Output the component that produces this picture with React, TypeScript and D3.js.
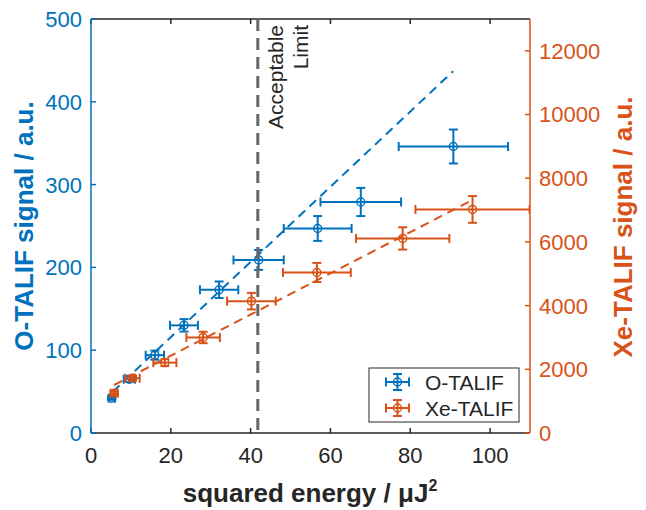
import React from 'react';
import * as d3 from 'd3';

const blueX = [5.2, 9.6, 16.0, 23.3, 32.1, 42.0, 56.8, 67.6, 90.8];
const blueXErr = [0.8, 1.4, 2.3, 3.5, 4.8, 6.3, 8.5, 10.1, 13.7];
const blueY = [42, 65, 94, 130, 173, 209, 247, 279, 346];
const blueYErr = [2, 3.5, 5.5, 7.5, 10, 12, 15, 17, 20.5];

const orangeX = [5.8, 10.4, 18.5, 28.1, 40.2, 56.6, 78.1, 95.6];
const orangeXErr = [0.9, 1.8, 2.9, 4.2, 6.1, 8.5, 11.7, 14.3];
const orangeY = [1250, 1720, 2210, 3000, 4140, 5040, 6110, 7020];
const orangeYErr = [60, 80, 110, 180, 260, 300, 350, 420];

const blueFitX = [5.5, 90.75];
const blueFitY = [50, 437];
const orangeFitX = [5.8, 94.75];
const orangeFitY = [1507, 7262];

const limitX = 41.8;

const xTicks = [0, 20, 40, 60, 80, 100];
const leftTicks = [0, 100, 200, 300, 400, 500];
const rightTicks = [0, 2000, 4000, 6000, 8000, 10000, 12000];

const BLUE = '#0072BD';
const ORANGE = '#D95319';
const DARK = '#262626';
const FONT = '"Liberation Sans", Arial, Helvetica, sans-serif';

const W = 646;
const H = 510;
const left = 91, right = 530, top = 19, bottom = 433;

const x = d3.scaleLinear().domain([0, 110]).range([left, right]);
const yL = d3.scaleLinear().domain([0, 500]).range([bottom, top]);
const yR = d3.scaleLinear().domain([0, 13000]).range([bottom, top]);

function ErrBar({ cx, cy, x0, x1, y0, y1, color }) {
  const cap = 4.5;
  return (
    <g stroke={color} strokeWidth={2} fill="none">
      <line x1={x0} x2={x1} y1={cy} y2={cy} />
      <line x1={x0} x2={x0} y1={cy - cap} y2={cy + cap} />
      <line x1={x1} x2={x1} y1={cy - cap} y2={cy + cap} />
      <line x1={cx} x2={cx} y1={y0} y2={y1} />
      <line x1={cx - cap} x2={cx + cap} y1={y0} y2={y0} />
      <line x1={cx - cap} x2={cx + cap} y1={y1} y2={y1} />
      <circle cx={cx} cy={cy} r={4} strokeWidth={1.5} />
    </g>
  );
}

export default function App() {
  const line = d3.line();
  const blueFit = line(blueFitX.map((v, i) => [x(v), yL(blueFitY[i])]));
  const orangeFit = line(orangeFitX.map((v, i) => [x(v), yR(orangeFitY[i])]));

  return (
    <div style={{ position: 'absolute', left: 0, top: 0 }}>
      <svg width={W} height={H} fontFamily={FONT} style={{ display: 'block', background: '#fff' }}>
        <defs>
          <clipPath id="plotClip">
            <rect x={left} y={top} width={right - left} height={bottom - top} />
          </clipPath>
        </defs>

        {/* frame: top and bottom black */}
        <line x1={left} x2={right} y1={top} y2={top} stroke={DARK} strokeWidth={1.5} />
        <line x1={left} x2={right} y1={bottom} y2={bottom} stroke={DARK} strokeWidth={1.5} />
        {xTicks.map(t => (
          <g key={t}>
            <line x1={x(t)} x2={x(t)} y1={bottom} y2={bottom - 5} stroke={DARK} strokeWidth={1.5} />
            <line x1={x(t)} x2={x(t)} y1={top} y2={top + 5} stroke={DARK} strokeWidth={1.5} />
            <text x={x(t)} y={463} fontSize={22} fill={DARK} textAnchor="middle">{t}</text>
          </g>
        ))}

        {/* left axis */}
        <line x1={left} x2={left} y1={top} y2={bottom} stroke={BLUE} strokeWidth={1.5} />
        {leftTicks.map(t => (
          <g key={t}>
            <line x1={left} x2={left + 5} y1={yL(t)} y2={yL(t)} stroke={BLUE} strokeWidth={1.5} />
            <text x={82} y={yL(t)} dy="0.36em" fontSize={22} fill={BLUE} textAnchor="end">{t}</text>
          </g>
        ))}
        <text transform={`translate(33,226) rotate(-90)`} fontSize={26} fontWeight="bold" fill={BLUE} textAnchor="middle">
          O-TALIF signal / a.u.
        </text>

        {/* right axis */}
        <line x1={right} x2={right} y1={top} y2={bottom} stroke={ORANGE} strokeWidth={1.5} />
        {rightTicks.map(t => (
          <g key={t}>
            <line x1={right} x2={right - 5} y1={yR(t)} y2={yR(t)} stroke={ORANGE} strokeWidth={1.5} />
            <text x={539} y={yR(t)} dy="0.36em" fontSize={22} fill={ORANGE} textAnchor="start">{t}</text>
          </g>
        ))}
        <text transform={`translate(632,227) rotate(-90)`} fontSize={26} fontWeight="bold" fill={ORANGE} textAnchor="middle">
          Xe-TALIF signal / a.u.
        </text>

        {/* x title */}
        <text x={310} y={502} fontSize={26} fontWeight="bold" fill={DARK} textAnchor="middle">
          squared energy / μJ<tspan fontSize={16} dy={-11}>2</tspan>
        </text>

        <g clipPath="url(#plotClip)">
          <path d={blueFit} stroke={BLUE} strokeWidth={2} fill="none" strokeDasharray="9,6" />
          <path d={orangeFit} stroke={ORANGE} strokeWidth={2} fill="none" strokeDasharray="9,6" />
          {blueX.map((v, i) => (
            <ErrBar key={'b' + i} cx={x(v)} cy={yL(blueY[i])}
              x0={x(v - blueXErr[i])} x1={x(v + blueXErr[i])}
              y0={yL(blueY[i] - blueYErr[i])} y1={yL(blueY[i] + blueYErr[i])} color={BLUE} />
          ))}
          {orangeX.map((v, i) => (
            <ErrBar key={'o' + i} cx={x(v)} cy={yR(orangeY[i])}
              x0={x(v - orangeXErr[i])} x1={x(v + orangeXErr[i])}
              y0={yR(orangeY[i] - orangeYErr[i])} y1={yR(orangeY[i] + orangeYErr[i])} color={ORANGE} />
          ))}
          <line x1={x(limitX)} x2={x(limitX)} y1={top} y2={bottom} stroke="#666666" strokeWidth={3} strokeDasharray="12,7" />
        </g>

        {/* limit label */}
        <text transform={`translate(283,25) rotate(-90)`} fontSize={21} fill={DARK} textAnchor="end">Acceptable</text>
        <text transform={`translate(308,25) rotate(-90)`} fontSize={21} fill={DARK} textAnchor="end">Limit</text>

        {/* legend */}
        <rect x={369} y={368} width={150} height={54} fill="#fff" stroke={DARK} strokeWidth={1} />
        <ErrBar cx={397.5} cy={382} x0={386} x1={409} y0={374} y1={390} color={BLUE} />
        <text x={425} y={382} dy="0.36em" fontSize={21} fill={DARK}>O-TALIF</text>
        <ErrBar cx={397.5} cy={408} x0={386} x1={409} y0={400} y1={416} color={ORANGE} />
        <text x={425} y={408} dy="0.36em" fontSize={21} fill={DARK}>Xe-TALIF</text>
      </svg>
    </div>
  );
}
